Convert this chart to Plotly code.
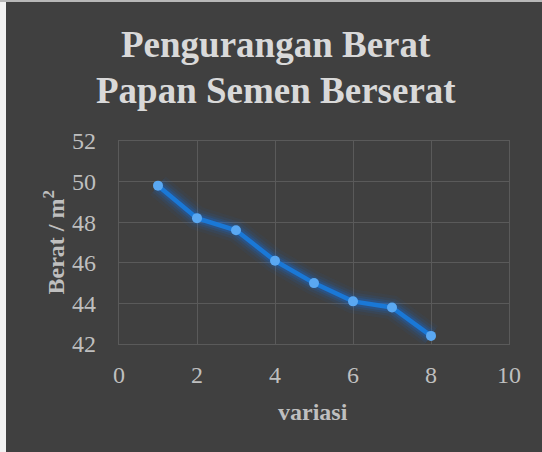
import plotly.graph_objects as go

variasi = [1, 2, 3, 4, 5, 6, 7, 8]
berat = [49.8, 48.2, 47.6, 46.1, 45.0, 44.1, 43.8, 42.4]
x_ticks = [0, 2, 4, 6, 8, 10]
y_ticks = [42, 44, 46, 48, 50, 52]
title_lines = ["Pengurangan Berat", "Papan Semen Berserat"]
x_title = "variasi"
y_title = "Berat / m<sup>2</sup>"

W, H = 542, 452
L, R, T, B = 119, 33, 141, 108
pw = W - L - R
ph = H - T - B


def px(xp):
    return (xp - L) / pw


def py(yp):
    return (H - B - yp) / ph


fig = go.Figure()
# glow layers
for w, a in [(24, 0.05), (18, 0.09), (13, 0.14), (9, 0.22)]:
    fig.add_trace(go.Scatter(x=variasi, y=berat, mode="lines",
                             line=dict(color=f"rgba(20,110,230,{a})", width=w),
                             hoverinfo="skip", showlegend=False))
fig.add_trace(go.Scatter(x=variasi, y=berat, mode="lines+markers",
                         line=dict(color="#1a78d6", width=4.5),
                         marker=dict(color="#5aa8f2", size=10, line=dict(width=0)),
                         showlegend=False))

# light border at left/top of the image
fig.add_shape(type="rect", xref="paper", yref="paper",
              x0=px(-2), x1=px(6), y0=py(H + 2), y1=py(-2),
              fillcolor="#f2f2f2", line=dict(width=0), layer="above")
fig.add_shape(type="rect", xref="paper", yref="paper",
              x0=px(-2), x1=px(W + 2), y0=py(2), y1=py(-2),
              fillcolor="#b8b8b8", line=dict(width=0), layer="above")

font_family = "Liberation Serif, Times New Roman, serif"
axis_common = dict(showgrid=True, gridcolor="#5a5a5a", gridwidth=1.3, zeroline=False,
                   showline=True, linecolor="#5a5a5a", linewidth=1.3, mirror=True,
                   ticks="", tickfont=dict(family=font_family, size=24, color="#bfbfbf"))

annotations = []
for line, yc in zip(title_lines, [45, 90]):
    annotations.append(dict(text="<b>" + line + "</b>", xref="paper", yref="paper",
                            x=px(276), y=py(yc), xanchor="center", yanchor="middle",
                            showarrow=False,
                            font=dict(family=font_family, size=37, color="#d9d9d9")))
annotations += [
    dict(text="<b>" + x_title + "</b>", xref="paper", yref="paper",
         x=px(313), y=py(412), xanchor="center", yanchor="middle",
         showarrow=False, font=dict(family=font_family, size=24, color="#bfbfbf")),
    dict(text="<b>" + y_title + "</b>", xref="paper", yref="paper",
         x=px(53), y=0.5, xanchor="center", yanchor="middle", textangle=-90,
         showarrow=False, font=dict(family=font_family, size=24, color="#bfbfbf")),
]

fig.update_layout(
    width=W, height=H,
    margin=dict(l=L, r=R, t=T, b=B),
    paper_bgcolor="#404040", plot_bgcolor="#404040",
    xaxis=dict(range=[0, 10], tickvals=x_ticks, ticklabelstandoff=9, **axis_common),
    yaxis=dict(range=[42, 52], tickvals=y_ticks, ticklabelstandoff=17, **axis_common),
    annotations=annotations,
)

fig.write_html("out.html", config={"displayModeBar": False},
               post_script="document.body.style.margin='0';")
